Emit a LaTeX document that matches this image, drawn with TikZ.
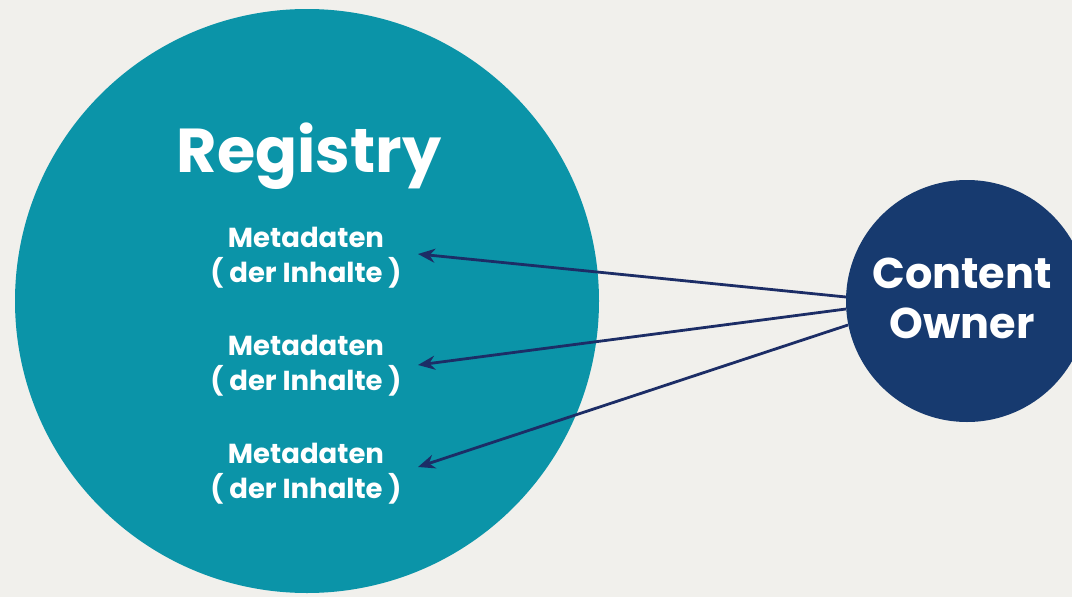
\documentclass[tikz,border=0pt]{standalone}
\usepackage{fontspec}
\setmainfont{Poppins}
\usetikzlibrary{arrows.meta,calc}
\definecolor{bg}{HTML}{F1F0EC}
\definecolor{teal}{HTML}{0B94A8}
\definecolor{navy}{HTML}{173A6F}
\definecolor{arrowc}{HTML}{1C2D66}
\begin{document}
\begin{tikzpicture}[x=1pt,y=-1pt,
  meta/.style={text=white,font=\fontsize{27.5}{35}\selectfont\bfseries,align=center,inner sep=2pt},
  arr/.style={draw=arrowc,line width=2.8pt,-{Stealth[length=17pt,width=14pt]}}]
\useasboundingbox (0,0) rectangle (1072,597);
\fill[bg] (0,0) rectangle (1072,597);
\fill[teal] (307,301) circle[radius=292];
\fill[navy] (967,301) circle[radius=121];
\node[text=white,font=\fontsize{62}{70}\selectfont\bfseries] (reg) at (309,156) {Registry};
\node[meta] (m1) at (306,258) {Metadaten\\( der Inhalte )};
\node[meta] (m2) at (306,366) {Metadaten\\( der Inhalte )};
\node[meta] (m3) at (306,474) {Metadaten\\( der Inhalte )};
\node[text=white,font=\fontsize{43}{50}\selectfont\bfseries,align=center] (co) at (962,298) {Content\\Owner};
\coordinate (s1) at (846,297);
\coordinate (s2) at (846,309);
\coordinate (s3) at (848,325);
\coordinate (t1) at (418,254);
\coordinate (t2) at (418,365);
\coordinate (t3) at (418,467);
\draw[arr] (s1) -- (t1);
\draw[arr] (s2) -- (t2);
\draw[arr] (s3) -- (t3);
\end{tikzpicture}
\end{document}
